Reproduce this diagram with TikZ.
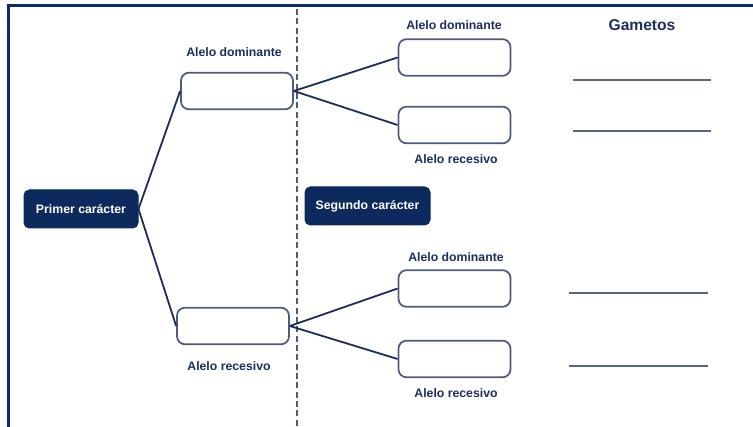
\documentclass[tikz,border=0pt]{standalone}
\usepackage{fontspec}
\setmainfont{Liberation Sans}
\definecolor{navy}{RGB}{13,42,94}
\definecolor{frameblue}{RGB}{12,43,110}
\definecolor{boxline}{RGB}{78,92,122}
\definecolor{linkline}{RGB}{30,45,88}
\definecolor{labeltext}{RGB}{28,45,94}
\definecolor{gameteline}{RGB}{90,100,125}

\tikzset{
charbox/.style={fill=navy, draw=navy, rounded corners=4pt, text=white, font=\bfseries\fontsize{9.2}{11}\selectfont, inner sep=0pt},
allelebox/.style={draw=boxline, line width=1.3pt, fill=white, rounded corners=6pt, minimum width=84pt, minimum height=27.5pt, inner sep=0pt},
allelelabel/.style={text=labeltext, font=\bfseries\fontsize{9.2}{11}\selectfont, inner sep=0.75pt},
link/.style={draw=linkline, line width=1.35pt},
gamete/.style={draw=gameteline, line width=1.1pt}}
\tikzset{every picture/.style={line width=0.75pt}}

\begin{document}
\begin{tikzpicture}[x=0.75pt,y=0.75pt,yscale=-1,xscale=1]
\useasboundingbox (0,0) rectangle (753,427);

%Frame
\draw [color=frameblue, line width=2.25pt] (8,427) -- (8,6) -- (753,6) ;
%Dashed divider
\draw [color=boxline, line width=1.5pt, dash pattern={on 4.5pt off 2.5pt}] (297,9) -- (297,427) ;

% Character nodes
\node [charbox, minimum width=85.5pt, minimum height=28.5pt] (primer) at (81,209) {Primer carácter};
\node [charbox, minimum width=93.75pt, minimum height=28.5pt] (segundo) at (367.5,206) {Segundo carácter};

% First generation alleles
\node [allelebox] (domA) at (237,91) {};
\node [allelebox] (recA) at (233,326) {};
\node [allelelabel] at (234,52) {Alelo dominante};
\node [allelelabel] at (229,366) {Alelo recesivo};

% Second character alleles
\node [allelebox] (domB) at (454.5,57.5) {};
\node [allelebox] (recB) at (454.5,125) {};
\node [allelebox] (domC) at (454.5,288.5) {};
\node [allelebox] (recC) at (454.5,359) {};
\node [allelelabel] at (454,25) {Alelo dominante};
\node [allelelabel] at (456,159) {Alelo recesivo};
\node [allelelabel] at (456,257) {Alelo dominante};
\node [allelelabel] at (456,393) {Alelo recesivo};

% Links
\draw [link] (primer.east) -- (domA.west) ;
\draw [link] (primer.east) -- (recA.west) ;
\draw [link] (domA.east) -- (domB.west) ;
\draw [link] (domA.east) -- (recB.west) ;
\draw [link] (recA.east) -- (domC.west) ;
\draw [link] (recA.east) -- (recC.west) ;

% Gametes
\node [text=labeltext, font=\bfseries\fontsize{11.7}{14}\selectfont, inner sep=0.75pt] (gametos) at (642,25) {Gametos};
\coordinate (g1a) at (573,80); \coordinate (g1b) at (711,80);
\coordinate (g2a) at (573,131); \coordinate (g2b) at (711,131);
\coordinate (g3a) at (569,293); \coordinate (g3b) at (708,293);
\coordinate (g4a) at (569,366); \coordinate (g4b) at (708,366);
\draw [gamete] (g1a) -- (g1b) ;
\draw [gamete] (g2a) -- (g2b) ;
\draw [gamete] (g3a) -- (g3b) ;
\draw [gamete] (g4a) -- (g4b) ;

\end{tikzpicture}
\end{document}
